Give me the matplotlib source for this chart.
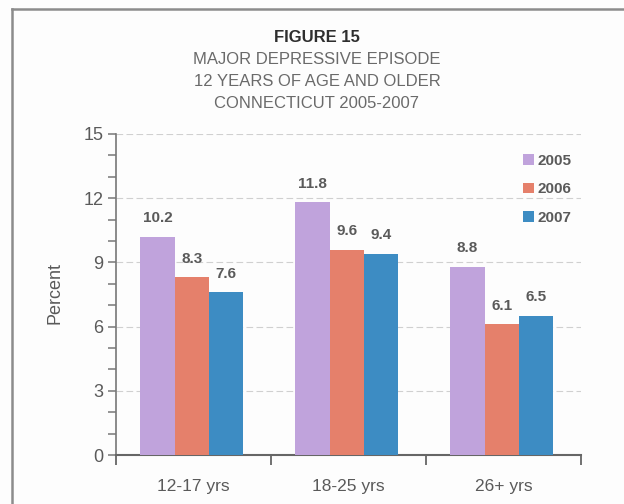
import matplotlib
matplotlib.use("Agg")
import matplotlib.pyplot as plt
from matplotlib.lines import Line2D
from matplotlib.ticker import MultipleLocator
import numpy as np

plt.rcParams['font.family'] = ['Liberation Sans', 'DejaVu Sans']

categories = ["12-17 yrs", "18-25 yrs", "26+ yrs"]
years = ["2005", "2006", "2007"]
values_2005 = [10.2, 11.8, 8.8]
values_2006 = [8.3, 9.6, 6.1]
values_2007 = [7.6, 9.4, 6.5]
y_ticks = [0, 3, 6, 9, 12, 15]
title_lines = ["MAJOR DEPRESSIVE EPISODE", "12 YEARS OF AGE AND OLDER",
               "CONNECTICUT 2005-2007"]

series = [values_2005, values_2006, values_2007]
colors = ["#c0a3dc", "#e5806b", "#3d8cc3"]

W, H = 624, 504
fig = plt.figure(figsize=(W / 100, H / 100), dpi=100)
fig.patch.set_facecolor("#fdfdfd")

# frame around the figure (left and top edges visible)
border = "#8c8c8c"
fig.add_artist(Line2D([11.7 / W, 11.7 / W], [0, 1 - 9.3 / H], transform=fig.transFigure,
                      color=border, lw=1.8))
fig.add_artist(Line2D([11.7 / W, 1.0], [1 - 9.3 / H, 1 - 9.3 / H], transform=fig.transFigure,
                      color=border, lw=1.8))

left, right = 116 / W, 581 / W
bottom, top = 1 - 455 / H, 1 - 134 / H
ax = fig.add_axes([left, bottom, right - left, top - bottom])
ax.set_facecolor("none")

x = np.arange(len(categories))
bw = 0.22
text_grey = "#5a5a5a"
for i, (vals, col, yr) in enumerate(zip(series, colors, years)):
    pos = x + (i - 1) * bw - 0.012
    bars = ax.bar(pos, vals, width=bw, color=col, label=yr, zorder=3)
    for b, v in zip(bars, vals):
        ax.text(b.get_x() + b.get_width() / 2, v + 0.55, f"{v:.1f}",
                ha="center", va="bottom", fontsize=11, fontweight="bold",
                color=text_grey)

ax.set_xlim(-0.5, 2.5)
ax.set_ylim(0, 15)
ax.set_yticks(y_ticks)
ax.yaxis.set_minor_locator(MultipleLocator(1))
ax.set_xticks([-0.5, 0.5, 1.5, 2.5], minor=False)
ax.set_xticklabels([])
ax.set_xticks(x, minor=True)
ax.set_xticklabels(categories, minor=True)
ax.tick_params(axis="x", which="minor", length=0, pad=17, labelsize=12.5,
               labelcolor=text_grey)
ax.tick_params(axis="x", which="major", length=7, width=1.3, color="#666666",
               direction="out")
ax.tick_params(axis="y", which="both", length=6, width=1.1, color="#777777",
               direction="out", labelsize=13, labelcolor=text_grey, pad=3)

for y in y_ticks[1:]:
    ax.axhline(y, color="#d0d0d0", lw=0.8, ls=(0, (6, 3)), zorder=1)

for s in ["top", "right"]:
    ax.spines[s].set_visible(False)
ax.spines["left"].set_color("#777777")
ax.spines["left"].set_linewidth(1.2)
ax.spines["bottom"].set_color("#666666")
ax.spines["bottom"].set_linewidth(1.5)

ax.set_ylabel("Percent", fontsize=13, color=text_grey)
ax.yaxis.set_label_coords(-0.112, (455 - 293) / 321)

leg = ax.legend(loc="upper right", bbox_to_anchor=(1.0, 0.967), frameon=False,
                fontsize=11, handlelength=0.7, handleheight=0.7,
                handletextpad=0.25, labelspacing=0.95, borderaxespad=0.2)
for t in leg.get_texts():
    t.set_color(text_grey)
    t.set_fontweight("bold")

cx = 317 / W
fig.text(cx, 1 - 37 / H, "FIGURE 15", ha="center", va="center", fontsize=12,
         fontweight="bold", color="#2e2e2e")
for k, line in enumerate(title_lines):
    fig.text(cx, 1 - (59 + 22.5 * k) / H, line, ha="center", va="center",
             fontsize=12, color="#6a6a6a")

fig.savefig("out.png", dpi=100, facecolor=fig.get_facecolor())
